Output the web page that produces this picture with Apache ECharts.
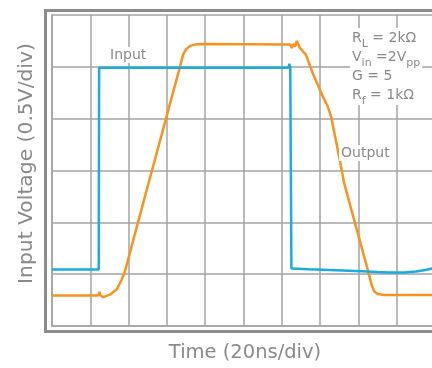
<!DOCTYPE html>
<html>
<head>
<meta charset="utf-8">
<script src="https://cdn.jsdelivr.net/npm/echarts@6/dist/echarts.min.js"></script>
<style>
    html, body { margin: 0; padding: 0; background: #fff; }
    #main { width: 432px; height: 368px; }
</style>
</head>
<body>
<div id="main"></div>
<script>
// time in ns (20ns/div), voltage in V (0.5V/div)
var inputTime = [0, 24.4, 24.6, 123.4, 123.9, 124.4, 124.8, 125.0, 134, 145, 155, 162, 170, 176, 184, 190, 195, 198.4, 200];
var inputVolt = [0.545, 0.545, 2.49, 2.49, 2.53, 2.49, 2.49, 0.555, 0.548, 0.54, 0.534, 0.528, 0.52, 0.515, 0.516, 0.525, 0.54, 0.555, 0.57];

var outputTime = [0, 24.2, 24.8, 25.4, 26.8, 30.3, 33.8, 36.4, 38.1, 44.9, 52.2, 59.5, 66.8, 68.4, 70.0, 72.1, 75.2, 80,
    123.2, 124.5, 125.2, 125.8, 126.4, 126.9, 127.8, 129.5, 132.6, 136.1, 141.4, 144.0, 145.7, 149.2, 152.6, 157.0, 161.4,
    164.0, 165.0, 166.0, 167.0, 168.2, 170.0, 173.4, 200];
var outputVolt = [0.295, 0.295, 0.33, 0.292, 0.278, 0.303, 0.352, 0.448, 0.528, 1.0, 1.5, 2.0, 2.5, 2.615, 2.668, 2.702, 2.717, 2.72,
    2.715, 2.715, 2.68, 2.72, 2.734, 2.696, 2.75, 2.68, 2.616, 2.44, 2.214, 2.117, 2.02, 1.70, 1.373, 1.074, 0.778,
    0.60, 0.53, 0.46, 0.39, 0.335, 0.308, 0.298, 0.3];

// the scope screen is cut off on the right, just past the 10th division
var xMin = 0, xMax = 198.4, xStep = 20;
var yMin = 0, yMax = 3, yStep = 0.5;

function pairs(xs, ys) {
    var out = [];
    for (var i = 0; i < xs.length; i++) out.push([xs[i], ys[i]]);
    return out;
}

var myChart = echarts.init(document.getElementById('main'));
var gridColor = '#a3a3a3';
var edgeColor = '#a8a8a8';
var textColor = '#8a8a8a';
var font = 'DejaVu Sans';

var option = {
    animation: false,
    grid: {
        left: 52, top: 15, right: 0, bottom: 41.5
    },
    xAxis: {
        type: 'value',
        min: xMin, max: xMax, interval: xStep,
        axisLine: { show: true, onZero: false, lineStyle: { color: edgeColor, width: 2 } },
        axisTick: { show: false },
        axisLabel: { show: false },
        splitLine: { show: true, showMaxLine: false, lineStyle: { color: gridColor, width: 1.5 } },
        name: 'Time (20ns/div)',
        nameLocation: 'middle',
        nameGap: 17,
        nameTextStyle: { color: textColor, fontSize: 19.5, fontFamily: font, padding: [0, 0, 0, 6] }
    },
    yAxis: {
        type: 'value',
        min: yMin, max: yMax, interval: yStep,
        axisLine: { show: true, onZero: false, lineStyle: { color: edgeColor, width: 2 } },
        axisTick: { show: false },
        axisLabel: { show: false },
        splitLine: { show: true, lineStyle: { color: gridColor, width: 1.5 } },
        name: 'Input Voltage (0.5V/div)',
        nameLocation: 'middle',
        nameGap: 15,
        nameTextStyle: { color: textColor, fontSize: 20.3, fontFamily: font, padding: [0, 0, 0, 14] }
    },
    graphic: [
        {
            type: 'rect',
            shape: { x: 45.5, y: 10.5, width: 420, height: 321 },
            style: { fill: 'none', stroke: '#8c8c8c', lineWidth: 3 },
            z: 10
        },
        {
            type: 'text', left: 108, top: 47, z: 20,
            style: {
                text: 'Input', fill: textColor, font: '14px "DejaVu Sans"',
                backgroundColor: '#fff', padding: [1, 2, 1, 2]
            }
        },
        {
            type: 'text', left: 339, top: 145, z: 20,
            style: {
                text: 'Output', fill: textColor, font: '14px "DejaVu Sans"',
                backgroundColor: '#fff', padding: [1, 2, 1, 2]
            }
        },
        {
            type: 'text', left: 350, top: 28, z: 20,
            style: {
                text: 'R{s|L} = 2kΩ\nV{s|in} =2V{s|pp}\nG = 5\nR{s|f} = 1kΩ',
                fill: textColor, fontSize: 14, fontFamily: font, lineHeight: 19,
                backgroundColor: '#fff', padding: [1, 2, 0, 2],
                rich: {
                    s: { fontSize: 11, fontFamily: font, fill: textColor, padding: [11, 0, 0, 0] }
                }
            }
        }
    ],
    series: [
        {
            name: 'Output',
            type: 'line',
            showSymbol: false,
            lineStyle: { color: '#f7931e', width: 2.5 },
            itemStyle: { color: '#f7931e' },
            data: pairs(outputTime, outputVolt)
        },
        {
            name: 'Input',
            type: 'line',
            showSymbol: false,
            lineStyle: { color: '#1aabe0', width: 2.5 },
            itemStyle: { color: '#1aabe0' },
            data: pairs(inputTime, inputVolt)
        }
    ]
};

option && myChart.setOption(option);
</script>
</body>
</html>
